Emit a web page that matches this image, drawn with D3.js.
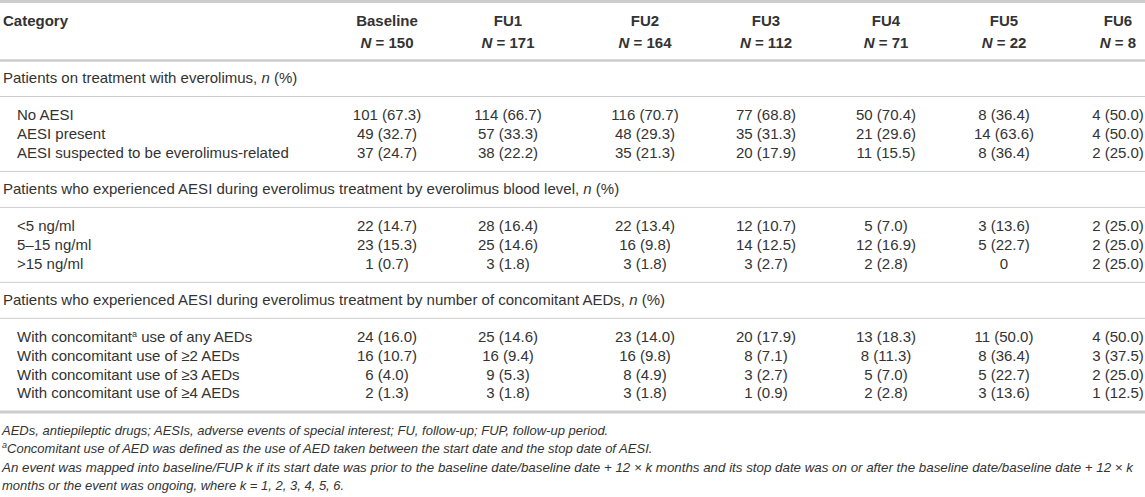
<!DOCTYPE html>
<meta charset="utf-8">
<style>
  body { margin: 0; background: #fff; }
  text { font-family: "Liberation Sans", Arial, sans-serif; fill: #333; }
  .hd { font-weight: bold; font-size: 15px; }
  .cell { font-size: 15px; }
  .note { font-size: 13px; font-style: italic; }
</style>
<body>
<script src="https://d3js.org/d3.v7.min.js"></script>
<script>

  // column headers
  var columns = ["Baseline", "FU1", "FU2", "FU3", "FU4", "FU5", "FU6"];
  var columnN = [150, 171, 164, 112, 71, 22, 8];

  // section titles (text before the italic n, the italic n goes after)
  var sectionTitles = [
    "Patients on treatment with everolimus, ",
    "Patients who experienced AESI during everolimus treatment by everolimus blood level, ",
    "Patients who experienced AESI during everolimus treatment by number of concomitant AEDs, "
  ];

  // section 1 rows: [n, %]
  var rowLabels1 = ["No AESI", "AESI present", "AESI suspected to be everolimus-related"];
  var noAesi = [[101, 67.3], [114, 66.7], [116, 70.7], [77, 68.8], [50, 70.4], [8, 36.4], [4, 50.0]];
  var aesiPresent = [[49, 32.7], [57, 33.3], [48, 29.3], [35, 31.3], [21, 29.6], [14, 63.6], [4, 50.0]];
  var aesiSuspected = [[37, 24.7], [38, 22.2], [35, 21.3], [20, 17.9], [11, 15.5], [8, 36.4], [2, 25.0]];

  // section 2 rows
  var rowLabels2 = ["<5 ng/ml", "5–15 ng/ml", ">15 ng/ml"];
  var levelLow = [[22, 14.7], [28, 16.4], [22, 13.4], [12, 10.7], [5, 7.0], [3, 13.6], [2, 25.0]];
  var levelMid = [[23, 15.3], [25, 14.6], [16, 9.8], [14, 12.5], [12, 16.9], [5, 22.7], [2, 25.0]];
  var levelHigh = [[1, 0.7], [3, 1.8], [3, 1.8], [3, 2.7], [2, 2.8], [0, null], [2, 25.0]];

  // section 3 rows
  var rowLabels3 = ["With concomitant|a| use of any AEDs", "With concomitant use of ≥2 AEDs",
    "With concomitant use of ≥3 AEDs", "With concomitant use of ≥4 AEDs"];
  var aedAny = [[24, 16.0], [25, 14.6], [23, 14.0], [20, 17.9], [13, 18.3], [11, 50.0], [4, 50.0]];
  var aed2 = [[16, 10.7], [16, 9.4], [16, 9.8], [8, 7.1], [8, 11.3], [8, 36.4], [3, 37.5]];
  var aed3 = [[6, 4.0], [9, 5.3], [8, 4.9], [3, 2.7], [5, 7.0], [5, 22.7], [2, 25.0]];
  var aed4 = [[2, 1.3], [3, 1.8], [3, 1.8], [1, 0.9], [2, 2.8], [3, 13.6], [1, 12.5]];

  var footnotes = [
    "AEDs, antiepileptic drugs; AESIs, adverse events of special interest; FU, follow-up; FUP, follow-up period.",
    "|a|Concomitant use of AED was defined as the use of AED taken between the start date and the stop date of AESI.",
    "An event was mapped into baseline/FUP k if its start date was prior to the baseline date/baseline date + 12 × k months and its stop date was on or after the baseline date/baseline date + 12 × k",
    "months or the event was ongoing, where k = 1, 2, 3, 4, 5, 6."
  ];

  var sections = [
    { title: sectionTitles[0], labels: rowLabels1, rows: [noAesi, aesiPresent, aesiSuspected] },
    { title: sectionTitles[1], labels: rowLabels2, rows: [levelLow, levelMid, levelHigh] },
    { title: sectionTitles[2], labels: rowLabels3, rows: [aedAny, aed2, aed3, aed4] }
  ];

  var width = 1145, height = 497;

  var svg = d3.select("body").append("svg")
    .attr("width", width)
    .attr("height", height);

  // column centres
  var x = d3.scaleOrdinal()
    .domain(columns)
    .range([387, 508, 645, 766, 886, 1004, 1118]);

  var fmt = d3.format(".1f");
  function cellText(d) {
    return d[1] == null ? String(d[0]) : d[0] + " (" + fmt(d[1]) + ")";
  }

  function hline(y, w) {
    svg.append("line")
      .attr("x1", 0).attr("x2", width)
      .attr("y1", y).attr("y2", y)
      .attr("stroke", "#cdcdcd")
      .attr("stroke-width", w);
  }

  // writes "a|b|c" strings, the middle piece as superscript
  function supText(sel, str) {
    str.split("|").forEach(function (part, i) {
      var t = sel.append("tspan").text(part);
      if (i % 2 == 1) t.attr("baseline-shift", "super").attr("font-size", "9px");
    });
  }

  // header
  hline(1.5, 3);
  svg.append("text").attr("class", "hd")
    .attr("x", 3).attr("y", 21).attr("dy", "0.35em")
    .text("Category");

  svg.selectAll(".colhead")
    .data(columns)
    .enter().append("text")
    .attr("class", "hd")
    .attr("text-anchor", "middle")
    .attr("x", function (d) { return x(d); })
    .attr("y", 21).attr("dy", "0.35em")
    .text(function (d) { return d; });

  svg.selectAll(".colN")
    .data(columns)
    .enter().append("text")
    .attr("class", "hd")
    .attr("text-anchor", "middle")
    .attr("x", function (d) { return x(d); })
    .attr("y", 43).attr("dy", "0.35em")
    .each(function (d, i) {
      var t = d3.select(this);
      t.append("tspan").attr("font-style", "italic").text("N");
      t.append("tspan").text(" = " + columnN[i]);
    });

  var y = 60.5;
  hline(y, 2.5);

  var pitch = 18.8;
  sections.forEach(function (sec) {
    y += 17.5;
    var title = svg.append("text").attr("class", "cell")
      .attr("x", 3).attr("y", y).attr("dy", "0.35em");
    title.append("tspan").text(sec.title);
    title.append("tspan").attr("font-style", "italic").text("n");
    title.append("tspan").text(" (%)");
    y += 18.5;
    hline(y, 1);
    y += 18.5;

    sec.rows.forEach(function (row, r) {
      var ry = y + r * pitch;
      var lab = svg.append("text").attr("class", "cell")
        .attr("x", 17).attr("y", ry).attr("dy", "0.35em");
      supText(lab, sec.labels[r]);

      svg.selectAll(null)
        .data(row)
        .enter().append("text")
        .attr("class", "cell")
        .attr("text-anchor", "middle")
        .attr("x", function (d, i) { return x(columns[i]); })
        .attr("y", ry).attr("dy", "0.35em")
        .text(cellText);
    });
    y += (sec.rows.length - 1) * pitch + pitch;
    hline(y, sec === sections[sections.length - 1] ? 3 : 1);
  });

  // footnotes
  var fy = y + 18;
  footnotes.forEach(function (f, i) {
    var t = svg.append("text").attr("class", "note")
      .attr("x", 2).attr("y", fy + i * 18.6).attr("dy", "0.35em");
    supText(t, f);
    if (i == 2) t.attr("textLength", 1131).attr("lengthAdjust", "spacingAndGlyphs");
  });

</script>
</body>
